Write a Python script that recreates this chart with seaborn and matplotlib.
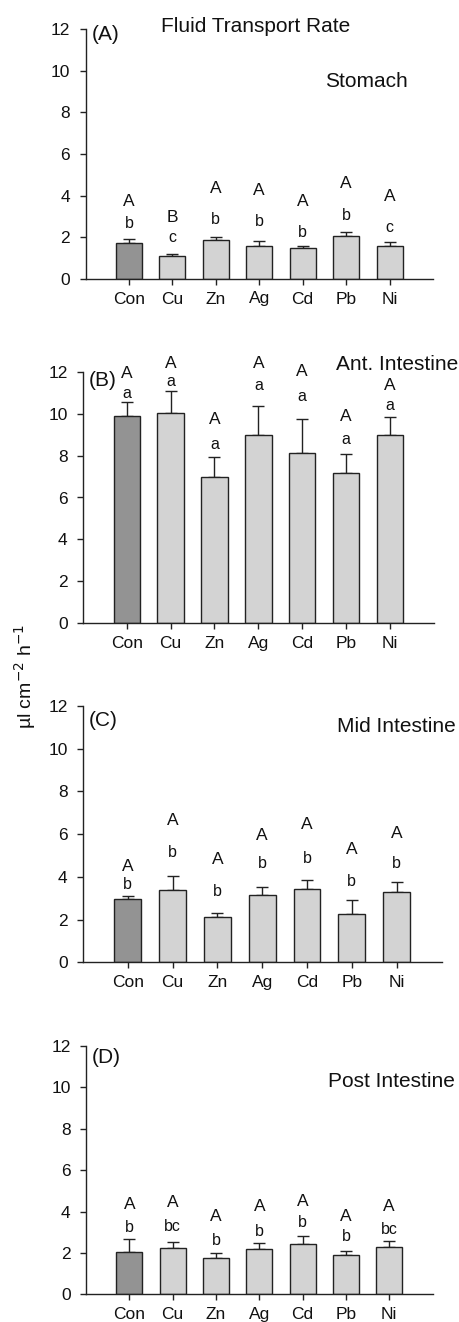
import matplotlib
matplotlib.use("Agg")
import matplotlib.pyplot as plt
import numpy as np
import pandas as pd
import seaborn as sns

# --- data ---
metals = ["Con", "Cu", "Zn", "Ag", "Cd", "Pb", "Ni"]

stomach_mean = [1.71, 1.10, 1.87, 1.60, 1.49, 2.08, 1.60]
stomach_se = [0.20, 0.10, 0.16, 0.21, 0.10, 0.19, 0.16]
ant_mean = [9.87, 10.01, 6.99, 9.00, 8.12, 7.15, 8.98]
ant_se = [0.70, 1.07, 0.96, 1.38, 1.61, 0.94, 0.84]
mid_mean = [2.96, 3.39, 2.14, 3.15, 3.42, 2.26, 3.31]
mid_se = [0.16, 0.65, 0.18, 0.39, 0.43, 0.66, 0.46]
post_mean = [2.06, 2.25, 1.74, 2.20, 2.42, 1.90, 2.28]
post_se = [0.61, 0.29, 0.24, 0.26, 0.41, 0.21, 0.29]

# significance letters (upper = between tissues, lower = within tissue)
stomach_up = ["A", "B", "A", "A", "A", "A", "A"]
stomach_low = ["b", "c", "b", "b", "b", "b", "c"]
ant_up = ["A"] * 7
ant_low = ["a"] * 7
mid_up = ["A"] * 7
mid_low = ["b"] * 7
post_up = ["A"] * 7
post_low = ["b", "bc", "b", "b", "b", "b", "bc"]

# heights at which the letters sit
stomach_up_y = [3.72, 2.97, 4.33, 4.23, 3.72, 4.60, 3.96]
stomach_low_y = [2.64, 1.97, 2.88, 2.77, 2.24, 3.03, 2.49]
ant_up_y = [11.92, 12.40, 9.73, 12.40, 12.03, 9.85, 11.33]
ant_low_y = [10.97, 11.55, 8.54, 11.32, 10.81, 8.77, 10.41]
mid_up_y = [4.48, 6.62, 4.79, 5.93, 6.43, 5.30, 6.04]
mid_low_y = [3.62, 5.13, 3.31, 4.63, 4.87, 3.77, 4.63]
post_up_y = [4.35, 4.44, 3.75, 4.23, 4.47, 3.78, 4.23]
post_low_y = [3.22, 3.30, 2.59, 3.02, 3.48, 2.78, 3.11]

sns.set_style("ticks")
plt.rcParams["font.family"] = ["Liberation Sans", "DejaVu Sans"]
plt.rcParams["text.color"] = "#111111"
plt.rcParams["xtick.color"] = "#222222"
plt.rcParams["ytick.color"] = "#222222"
plt.rcParams["xtick.labelcolor"] = "#111111"
plt.rcParams["ytick.labelcolor"] = "#111111"

fig = plt.figure(figsize=(4.6, 13.22), dpi=100)
W, H = 460, 1322

panels = [
    # (mean, se, up, low, up_y, low_y, tag, tag_y, tissue, tissue_xy, px box (left, right, y0, y12))
    (stomach_mean, stomach_se, stomach_up, stomach_low, stomach_up_y, stomach_low_y,
     "(A)", 11.75, "Stomach", (5.46, 9.47), (85.5, 433.0, 279.0, 29.0)),
    (ant_mean, ant_se, ant_up, ant_low, ant_up_y, ant_low_y,
     "(B)", 11.6, "Ant. Intestine", (6.16, 12.33), (82.8, 433.9, 623.3, 371.7)),
    (mid_mean, mid_se, mid_up, mid_low, mid_up_y, mid_low_y,
     "(C)", 11.34, "Mid Intestine", (6.0, 11.03), (82.9, 441.5, 962.3, 706.0)),
    (post_mean, post_se, post_up, post_low, post_up_y, post_low_y,
     "(D)", 11.46, "Post Intestine", (6.06, 10.27), (86.0, 432.6, 1294.3, 1046.0)),
]

palette = {"control": "#939393", "metal": "#d3d3d3"}

for i, (mean, se, up, low, up_y, low_y, tag, tag_y, tissue, txy, box) in enumerate(panels):
    left, right, y0, y12 = box
    ax = fig.add_axes([left / W, (H - y0) / H, (right - left) / W, (y0 - y12) / H])
    df = pd.DataFrame({
        "metal": metals,
        "rate": mean,
        "se": se,
        "kind": ["control"] + ["metal"] * 6,
    })
    sns.barplot(data=df, x="metal", y="rate", hue="kind", palette=palette,
                dodge=False, width=0.6, edgecolor="#222222", linewidth=1.0,
                errorbar=None, legend=False, ax=ax, zorder=2)
    xs = np.arange(len(metals))
    ax.errorbar(xs, df["rate"], yerr=[np.zeros(len(metals)), df["se"]],
                fmt="none", ecolor="#222222", elinewidth=1.0, capsize=4,
                capthick=1.0, zorder=1)
    for x, u, l, uy, ly in zip(xs, up, low, up_y, low_y):
        ax.text(x, uy, u, ha="center", va="center", fontsize=12.5)
        ax.text(x, ly, l, ha="center", va="center", fontsize=11.5)

    ax.set_xlim(-1, 7)
    ax.set_ylim(0, 12)
    ax.set_yticks(range(0, 13, 2))
    ax.set_xlabel("")
    ax.set_ylabel("")
    ax.tick_params(axis="both", labelsize=12.5, length=4, width=1.0,
                   direction="out")
    ax.tick_params(axis="y", pad=7)
    ax.tick_params(axis="x", pad=5)
    for s in ["top", "right"]:
        ax.spines[s].set_visible(False)
    for s in ["left", "bottom"]:
        ax.spines[s].set_linewidth(1.0)
        ax.spines[s].set_color("#222222")

    ax.text(-0.86, tag_y, tag, ha="left", va="center", fontsize=15, clip_on=False)
    ax.text(txy[0], txy[1], tissue, ha="center", va="center", fontsize=15,
            clip_on=False)
    if i == 0:
        ax.text(2.91, 12.14, "Fluid Transport Rate", ha="center", va="center",
                fontsize=15, clip_on=False)

fig.text(25 / W, 1 - 676 / H, "µl cm$^{\\mathrm{-2}}$ h$^{\\mathrm{-1}}$",
         rotation=90, ha="center", va="center", fontsize=14)

fig.savefig("out.png", dpi=100)
